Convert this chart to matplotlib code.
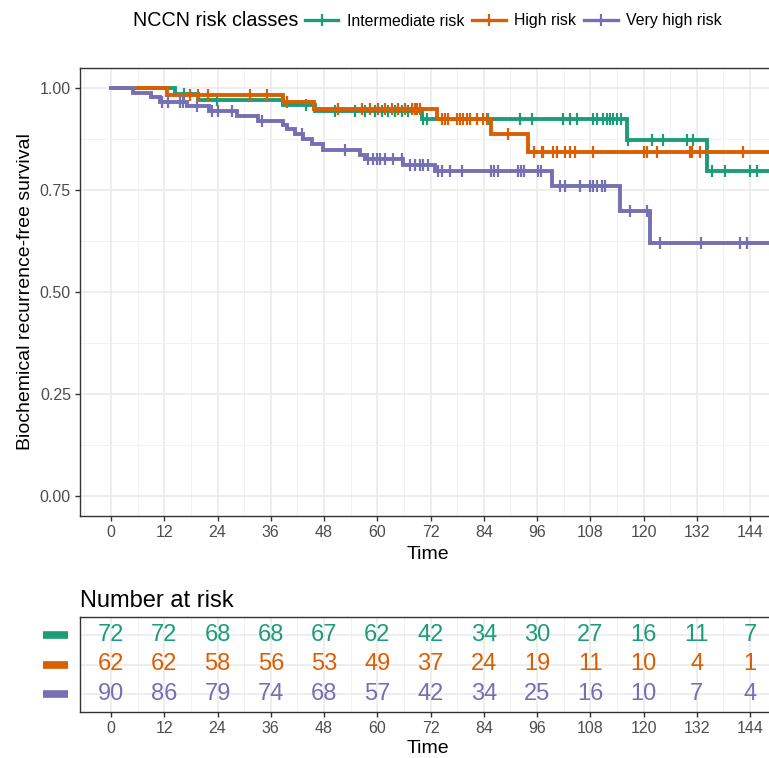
import numpy as np
import matplotlib
matplotlib.use("Agg")
import matplotlib.pyplot as plt
from matplotlib.lines import Line2D
from matplotlib.ticker import MultipleLocator
import matplotlib.transforms as mtransforms

plt.rcParams["font.family"] = ["Liberation Sans", "DejaVu Sans"]

# strata
groups = ["Intermediate risk", "High risk", "Very high risk"]
colors = ["#1B9E77", "#D95F02", "#7570B3"]

# Kaplan-Meier steps (event times, survival after each time)
inter_time = [0, 14.4, 19.6, 38.8, 46.0, 70.0, 116.2, 134.2]
inter_surv = [1.0, 0.986, 0.972, 0.958, 0.944, 0.926, 0.873, 0.797]
inter_cens = [16.5, 23.8, 44, 50.5, 55, 57.2, 59.5, 61, 62.4, 64, 65.5, 66.9,
              70.3, 71.1, 85.0, 92.2, 94.8, 101.9, 103.4, 104.9, 108.7, 109.4,
              110.9, 111.7, 112.4, 113.1, 114, 115, 116.5, 121.8, 124.4, 129.7,
              131.2, 135.4, 138.4, 144, 145.5]

high_time = [0, 12.5, 38.8, 45.7, 73.5, 85.7, 93.9]
high_surv = [1.0, 0.984, 0.967, 0.950, 0.924, 0.887, 0.844]
high_cens = [17.8, 19.7, 21.9, 31.3, 35.1, 39.6, 51.2, 56.5, 58.4, 60.2, 61.7,
             63.3, 64.7, 66.3, 67.8, 68.5, 68.9, 69.6, 74.5, 75.3, 76, 77.9,
             78.6, 79.4, 80.2, 80.9, 82.4, 83.9, 84.7, 89.5, 95.2, 97, 97.4,
             99.7, 100.4, 102.3, 103.4, 104.6, 108.7, 120, 120.7, 123, 130.5,
             130.9, 132.7, 142.5]

vhigh_time = [0, 5, 9, 11, 17, 22, 28.4, 33, 38.8, 39.6, 41.5, 43.3, 45.3,
              47.8, 56, 57.2, 65.8, 73, 99.3, 114.7, 121.5]
vhigh_surv = [1.0, 0.989, 0.978, 0.967, 0.956, 0.944, 0.932, 0.921, 0.910,
              0.899, 0.887, 0.876, 0.864, 0.849, 0.837, 0.826, 0.813, 0.797,
              0.760, 0.698, 0.620]
vhigh_cens = [11.4, 12.9, 15.5, 16.3, 19.3, 22.7, 24, 27.2, 34, 43, 52.7, 58,
              59, 60, 60.6, 61.7, 63.5, 65.6, 67.4, 68.5, 69.6, 70.3, 71.4,
              73.7, 74.6, 76.4, 79.1, 85.6, 86.3, 87.3, 91.8, 92.4, 93.1, 96.1,
              96.9, 101.2, 102.3, 105.7, 107.9, 108.7, 109.4, 110.6, 111.2,
              117, 120.7, 123.7, 133, 141.7, 143.3]

followup_end = 152

# number at risk
risk_times = [0, 12, 24, 36, 48, 60, 72, 84, 96, 108, 120, 132, 144]
inter_risk = [72, 72, 68, 68, 67, 62, 42, 34, 30, 27, 16, 11, 7]
high_risk = [62, 62, 58, 56, 53, 49, 37, 24, 19, 11, 10, 4, 1]
vhigh_risk = [90, 86, 79, 74, 68, 57, 42, 34, 25, 16, 10, 7, 4]

curves = [
    (inter_time, inter_surv, inter_cens, inter_risk),
    (high_time, high_surv, high_cens, high_risk),
    (vhigh_time, vhigh_surv, vhigh_cens, vhigh_risk),
]

W, H = 769, 758


def rect(l, t, r, b):
    return [l / W, 1 - b / H, (r - l) / W, (b - t) / H]


def style_axes(ax):
    for s in ax.spines.values():
        s.set_color("#333333")
        s.set_linewidth(1.0)
    ax.tick_params(which="major", color="#333333", labelcolor="#4D4D4D",
                   length=3.5, width=1.0, labelsize=11.5, pad=3)
    ax.tick_params(which="minor", length=0)
    ax.grid(which="major", color="#EBEBEB", lw=1.2)
    ax.grid(which="minor", color="#F2F2F2", lw=0.7)
    ax.set_axisbelow(True)


fig = plt.figure(figsize=(W / 100, H / 100), dpi=100)

ax = fig.add_axes(rect(80, 68, 776.7, 516))
for (t, s, cens, _), col in zip(curves, colors):
    t = np.array(t)
    s = np.array(s)
    ax.step(np.append(t, followup_end), np.append(s, s[-1]), where="post",
            color=col, lw=2.8, solid_joinstyle="miter")
    idx = np.searchsorted(t, cens, side="right") - 1
    ax.plot(cens, s[idx], ls="none", marker="|", color=col, ms=9, mew=1.6)

ax.set_xlim(-7, 150)
ax.set_ylim(-0.05, 1.05)
ax.set_xticks(risk_times)
ax.xaxis.set_minor_locator(MultipleLocator(6))
ax.set_yticks([0, 0.25, 0.5, 0.75, 1.0])
ax.set_yticklabels(["0.00", "0.25", "0.50", "0.75", "1.00"])
ax.yaxis.set_minor_locator(MultipleLocator(0.125))
style_axes(ax)
ax.set_xlabel("Time", fontsize=14, labelpad=4)
ax.set_ylabel("Biochemical recurrence-free survival", fontsize=14, labelpad=4)

# legend on top
fig.text(133 / W, 1 - 21 / H, "NCCN risk classes", fontsize=14.2, va="center")
handles = [Line2D([], [], color=c, lw=2.4, marker="|", ms=9, mew=1.6)
           for c in colors]
fig.legend(handles, groups, loc="center left",
           bbox_to_anchor=(305 / W, 1 - 21 / H), ncol=3, frameon=False,
           fontsize=11.4, handlelength=2.1, handletextpad=0.55,
           columnspacing=0.5, borderaxespad=0, borderpad=0)

# risk table
axt = fig.add_axes(rect(80, 617, 776.7, 712))
rows = [3, 2, 1]
for (_, _, _, risk), col, r in zip(curves, colors, rows):
    for x, n in zip(risk_times, risk):
        axt.text(x, r, str(n), color=col, fontsize=17, ha="center",
                 va="center")
axt.set_xlim(-7, 150)
axt.set_ylim(0.4, 3.6)
axt.set_xticks(risk_times)
axt.xaxis.set_minor_locator(MultipleLocator(6))
axt.set_yticks(rows)
axt.set_yticklabels([])
style_axes(axt)
axt.tick_params(axis="y", length=0)
axt.set_xlabel("Time", fontsize=14, labelpad=3)
axt.set_title("Number at risk", fontsize=17, loc="left", pad=7)

trans = mtransforms.blended_transform_factory(fig.transFigure, axt.transData)
for col, r in zip(colors, rows):
    axt.add_line(Line2D([43 / W, 68 / W], [r, r], transform=trans, color=col,
                        lw=5.5, solid_capstyle="butt", clip_on=False))

fig.savefig("out.png", dpi=100)
